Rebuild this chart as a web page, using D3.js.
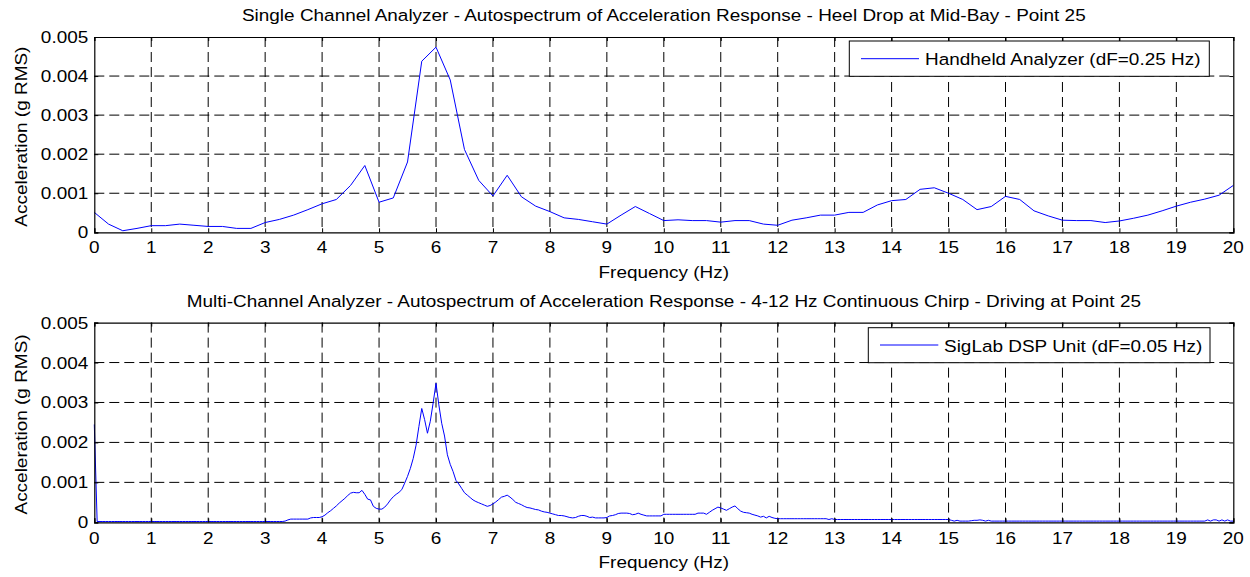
<!DOCTYPE html>
<html><head><meta charset="utf-8">
<script src="https://cdn.jsdelivr.net/npm/d3@7"></script>
<style>
body{margin:0;background:#fff}
svg{display:block}
text{font-family:"Liberation Sans",Arial,Helvetica,sans-serif;fill:#000}
</style>
</head><body>
<svg id="c" width="1250" height="577"></svg>
<script>
// ---- data ----
const freqTicks = [0,1,2,3,4,5,6,7,8,9,10,11,12,13,14,15,16,17,18,19,20];
const accTicks = [0,0.001,0.002,0.003,0.004,0.005];
const accTickLabels = ["0","0.001","0.002","0.003","0.004","0.005"];

const titles = [
  "Single Channel Analyzer - Autospectrum of Acceleration Response - Heel Drop at Mid-Bay - Point 25",
  "Multi-Channel Analyzer - Autospectrum of Acceleration Response - 4-12 Hz Continuous Chirp - Driving at Point 25"
];
const seriesNames = ["Handheld Analyzer (dF=0.25 Hz)", "SigLab DSP Unit (dF=0.05 Hz)"];
const xLabel = "Frequency (Hz)";
const yLabel = "Acceleration (g RMS)";

// Handheld analyzer, dF = 0.25 Hz, 0..20 Hz
const handheldDF = 0.25;
const handheldValues = [
  0.00051,0.00021,0.00004,0.00010,0.00017,0.00017,0.00021,0.00018,0.00015,0.00015,0.00010,0.00010,
  0.00025,0.00033,0.00044,0.00058,0.00073,0.00084,0.00120,0.00171,0.00077,0.00088,0.00180,0.00438,
  0.00474,0.00390,0.00212,0.00133,0.00093,0.00146,0.00091,0.00067,0.00053,0.00037,0.00033,0.00027,
  0.00021,0.00044,0.00066,0.00048,0.00030,0.00032,0.00030,0.00030,0.00026,0.00030,0.00030,0.00021,
  0.00018,0.00031,0.00037,0.00044,0.00044,0.00051,0.00051,0.00070,0.00081,0.00084,0.00110,0.00114,
  0.00100,0.00084,0.00058,0.00066,0.00092,0.00084,0.00055,0.00042,0.00031,0.00030,0.00030,0.00025,
  0.00029,0.00036,0.00044,0.00055,0.00067,0.00077,0.00085,0.00095,0.00120
];

// SigLab DSP unit, dF = 0.05 Hz, 0..20 Hz (one row per Hz)
const siglabDF = 0.05;
const siglabValues = [
  0.00245,0.00002,0.00002,0.00002,0.00002,0.00002,0.00002,0.00002,0.00002,0.00002,0.00002,0.00002,0.00002,0.00002,0.00002,0.00002,0.00002,0.00002,0.00002,0.00002,
  0.00002,0.00002,0.00002,0.00002,0.00002,0.00002,0.00002,0.00002,0.00002,0.00002,0.00002,0.00002,0.00002,0.00002,0.00002,0.00002,0.00002,0.00002,0.00002,0.00002,
  0.00002,0.00002,0.00002,0.00002,0.00002,0.00002,0.00002,0.00002,0.00002,0.00002,0.00002,0.00002,0.00002,0.00002,0.00002,0.00002,0.00002,0.00002,0.00002,0.00002,
  0.00002,0.00002,0.00002,0.00002,0.00002,0.00002,0.00002,0.00003,0.00006,0.00008,0.00008,0.00008,0.00008,0.00008,0.00008,0.00008,0.00011,0.00012,0.00012,0.00012,
  0.00014,0.00018,0.00024,0.00029,0.00035,0.00041,0.00048,0.00054,0.00060,0.00067,0.00073,0.00075,0.00074,0.00074,0.00080,0.00070,0.00058,0.00056,0.00040,0.00035,
  0.00033,0.00033,0.00038,0.00046,0.00056,0.00064,0.00070,0.00075,0.00082,0.00098,0.00115,0.00135,0.00160,0.00193,0.00240,0.00285,0.00257,0.00223,0.00253,0.00299,
  0.00348,0.00294,0.00248,0.00216,0.00169,0.00145,0.00127,0.00105,0.00096,0.00085,0.00074,0.00068,0.00062,0.00056,0.00052,0.00049,0.00046,0.00043,0.00040,0.00042,
  0.00046,0.00051,0.00057,0.00063,0.00065,0.00068,0.00063,0.00057,0.00050,0.00047,0.00044,0.00040,0.00037,0.00036,0.00034,0.00032,0.00031,0.00028,0.00026,0.00025,
  0.00023,0.00021,0.00019,0.00017,0.00017,0.00016,0.00014,0.00012,0.00011,0.00012,0.00015,0.00017,0.00017,0.00015,0.00012,0.00013,0.00011,0.00011,0.00011,0.00011,
  0.00012,0.00016,0.00017,0.00019,0.00022,0.00023,0.00023,0.00023,0.00022,0.00019,0.00020,0.00023,0.00020,0.00018,0.00016,0.00016,0.00016,0.00016,0.00016,0.00016,
  0.00020,0.00020,0.00020,0.00020,0.00020,0.00020,0.00020,0.00020,0.00020,0.00020,0.00020,0.00020,0.00023,0.00023,0.00023,0.00020,0.00025,0.00030,0.00034,0.00038,
  0.00036,0.00033,0.00030,0.00034,0.00038,0.00041,0.00034,0.00028,0.00025,0.00024,0.00023,0.00020,0.00018,0.00016,0.00013,0.00015,0.00011,0.00015,0.00012,0.00010,
  0.00009,0.00009,0.00009,0.00009,0.00009,0.00009,0.00009,0.00009,0.00009,0.00009,0.00009,0.00009,0.00009,0.00009,0.00009,0.00009,0.00009,0.00009,0.00007,0.00009,
  0.00007,0.00007,0.00007,0.00007,0.00007,0.00007,0.00007,0.00007,0.00007,0.00007,0.00007,0.00007,0.00007,0.00007,0.00007,0.00007,0.00007,0.00007,0.00007,0.00007,
  0.00007,0.00007,0.00007,0.00007,0.00007,0.00007,0.00007,0.00007,0.00007,0.00007,0.00007,0.00007,0.00007,0.00007,0.00007,0.00007,0.00007,0.00007,0.00007,0.00007,
  0.00007,0.00005,0.00003,0.00005,0.00003,0.00003,0.00003,0.00003,0.00004,0.00005,0.00005,0.00006,0.00005,0.00003,0.00005,0.00003,0.00003,0.00003,0.00003,0.00003,
  0.00003,0.00003,0.00003,0.00003,0.00003,0.00003,0.00003,0.00003,0.00003,0.00003,0.00003,0.00003,0.00003,0.00003,0.00003,0.00003,0.00003,0.00003,0.00003,0.00003,
  0.00003,0.00003,0.00003,0.00003,0.00003,0.00003,0.00003,0.00003,0.00003,0.00003,0.00003,0.00003,0.00003,0.00003,0.00003,0.00003,0.00003,0.00003,0.00003,0.00003,
  0.00003,0.00003,0.00003,0.00003,0.00003,0.00003,0.00003,0.00003,0.00003,0.00003,0.00003,0.00003,0.00003,0.00003,0.00003,0.00003,0.00003,0.00003,0.00003,0.00003,
  0.00003,0.00003,0.00003,0.00003,0.00003,0.00003,0.00003,0.00003,0.00003,0.00003,0.00003,0.00006,0.00003,0.00006,0.00006,0.00003,0.00006,0.00003,0.00006,0.00003,
  0.00003
];

// ---- layout ----
const FS = 17, SX = 1.115;
const panels = [
  {top:37, bottom:232.3, titleY:20.5, tickY:253.3, xlabY:277.7,
   legend:{x0:849.3, x1:1209.3, y0:41, y1:76.3, lx0:861, lx1:919, ly:58.7, tx:925, ty:65.2},
   df:handheldDF, values:handheldValues},
  {top:322.6, bottom:522.3, titleY:307.3, tickY:544, xlabY:568.3,
   legend:{x0:868.3, x1:1210, y0:327.7, y1:362.7, lx0:880, lx1:938.3, ly:345, tx:944, ty:351.6},
   df:siglabDF, values:siglabValues}
];
const LEFT = 94.3, RIGHT = 1233.3;

const svg = d3.select("#c");

function txt(g, x, y, s, anchor, rot) {
  return g.append("text")
    .attr("transform", `translate(${x},${y}) rotate(${rot||0}) scale(${SX},1)`)
    .attr("text-anchor", anchor)
    .style("font-size", FS + "px")
    .text(s);
}

panels.forEach((p, k) => {
  const g = svg.append("g");
  const x = d3.scaleLinear().domain([0, 20]).range([LEFT, RIGHT]);
  const y = d3.scaleLinear().domain([0, 0.005]).range([p.bottom, p.top]);

  // grid
  g.append("g").selectAll("line").data(freqTicks.slice(1, -1)).join("line")
    .attr("x1", d => x(d)).attr("x2", d => x(d))
    .attr("y1", p.top).attr("y2", p.bottom)
    .attr("stroke", "#000").attr("stroke-width", 1).attr("stroke-dasharray", "10,5");
  g.append("g").selectAll("line").data(accTicks.slice(1, -1)).join("line")
    .attr("x1", LEFT).attr("x2", RIGHT)
    .attr("y1", d => y(d)).attr("y2", d => y(d))
    .attr("stroke", "#000").attr("stroke-width", 1).attr("stroke-dasharray", "10,5");

  // data line
  const pts = p.values.map((v, i) => [i * p.df, v]);
  g.append("path").datum(pts)
    .attr("fill", "none").attr("stroke", "#0000ff").attr("stroke-width", 1)
    .attr("stroke-linejoin", "round")
    .attr("d", d3.line().x(d => x(d[0])).y(d => y(d[1])));

  // axes (ticks inward, box)
  const axB = d3.axisBottom(x).tickValues(freqTicks).tickSize(-4).tickFormat("");
  const axT = d3.axisTop(x).tickValues(freqTicks).tickSize(-4).tickFormat("");
  const axL = d3.axisLeft(y).tickValues(accTicks).tickSize(-4).tickFormat("");
  const axR = d3.axisRight(y).tickValues(accTicks).tickSize(-4).tickFormat("");
  [[axB, `translate(0,${p.bottom})`], [axT, `translate(0,${p.top})`],
   [axL, `translate(${LEFT},0)`], [axR, `translate(${RIGHT},0)`]].forEach(([ax, tr]) => {
    const a = g.append("g").attr("transform", tr).call(ax);
    a.select(".domain").attr("stroke", "#000").attr("stroke-width", 1.2);
    a.selectAll(".tick line").attr("stroke", "#000");
  });

  // tick labels
  freqTicks.forEach(t => txt(g, x(t), p.tickY, String(t), "middle"));
  accTicks.forEach((t, i) => txt(g, 88.3, y(t) + 6, accTickLabels[i], "end"));

  // labels
  txt(g, (LEFT + RIGHT) / 2, p.titleY, titles[k], "middle");
  txt(g, (LEFT + RIGHT) / 2, p.xlabY, xLabel, "middle");
  txt(g, 26.5, (p.top + p.bottom) / 2 + 2, yLabel, "middle", -90);

  // legend
  const L = p.legend;
  g.append("rect").attr("x", L.x0).attr("y", L.y0).attr("width", L.x1 - L.x0).attr("height", L.y1 - L.y0)
    .attr("fill", "#fff").attr("stroke", "#000").attr("stroke-width", 1);
  g.append("line").attr("x1", L.lx0).attr("x2", L.lx1).attr("y1", L.ly).attr("y2", L.ly)
    .attr("stroke", "#0000ff").attr("stroke-width", 1);
  txt(g, L.tx, L.ty, seriesNames[k], "start");
});
</script>
</body></html>
